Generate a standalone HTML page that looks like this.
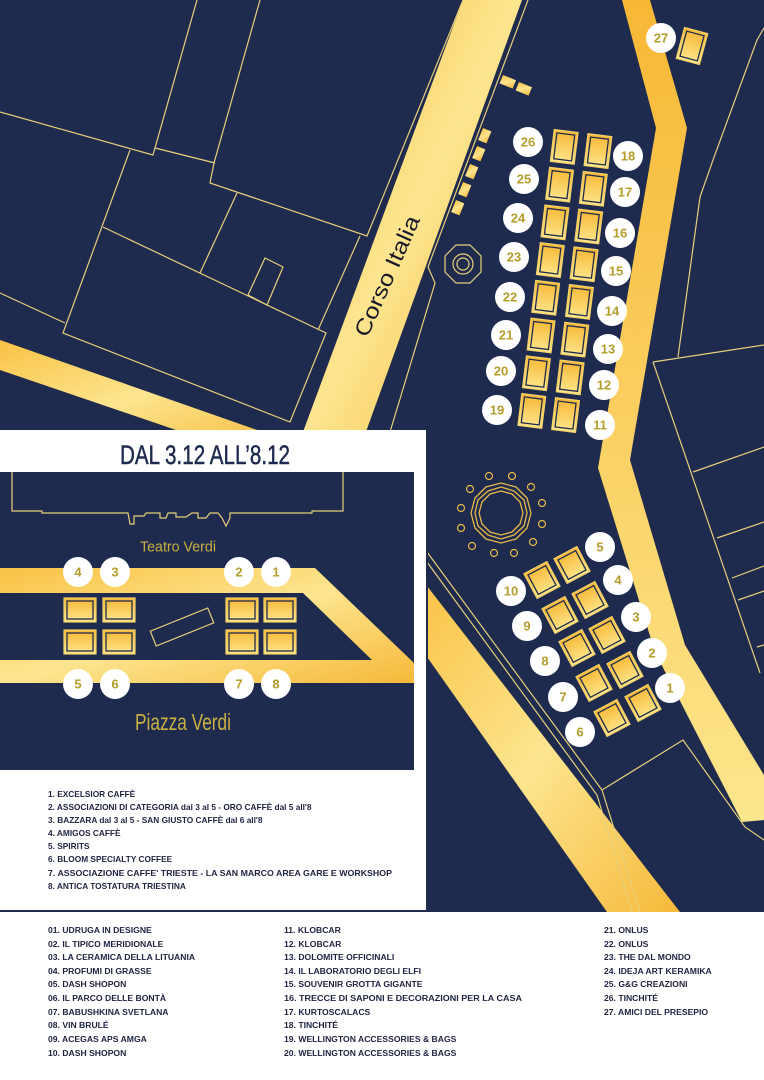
<!DOCTYPE html>
<html><head><meta charset="utf-8"><style>
html,body{margin:0;padding:0;background:#fff}
svg{display:block}
.c{fill:#fff}
.n{font-family:"Liberation Sans",sans-serif;font-weight:bold;font-size:13px;fill:#b39d2b;text-anchor:middle;dominant-baseline:central}
.l{font-family:"Liberation Sans",sans-serif;font-weight:bold;fill:#1e2340}
.o{fill:url(#g2);stroke:#f3d16a;stroke-width:1.2}
.i{fill:none;stroke:#1e2b4e;stroke-width:1.3}
</style></head><body>
<svg width="764" height="1080" viewBox="0 0 764 1080" xmlns="http://www.w3.org/2000/svg">
<defs>
<linearGradient id="g" x1="0" y1="0" x2="1" y2="1">
<stop offset="0" stop-color="#f9c245"/><stop offset="0.5" stop-color="#fde58f"/><stop offset="1" stop-color="#f6b93a"/>
</linearGradient>
<linearGradient id="g2" x1="0" y1="0" x2="0" y2="1">
<stop offset="0" stop-color="#f7b835"/><stop offset="1" stop-color="#fde68c"/>
</linearGradient>
<g id="bv"><rect class="o" x="-12" y="-16" width="24" height="32"/><rect class="i" x="-9" y="-13" width="18" height="26"/></g>
<g id="bs"><rect class="o" x="-13" y="-14" width="26" height="28"/><rect class="i" x="-10" y="-11" width="20" height="22"/></g>
<g id="bi"><rect class="o" x="-16" y="-12" width="32" height="24"/><rect class="i" x="-13" y="-9" width="26" height="18"/></g>
</defs>
<rect x="0" y="0" width="764" height="912" fill="#1e2b4e"/>
<rect x="0" y="912" width="764" height="168" fill="#fff"/>
<line x1="0" y1="911" x2="764" y2="911" stroke="#1e2b4e" stroke-width="2"/>

<!-- roads -->
<polygon points="463,0 522,0 363,440 300,440" fill="url(#g)"/>
<polygon points="0,340 300,445 220,445 0,370" fill="url(#g)"/>
<polygon points="622,0 650,0 687,128 630,460 685,645 764,775 764,820 742,822 655,652 598,468 656,128" fill="url(#g2)"/>
<polygon points="420,577 680,912 607,912 420,647" fill="url(#g)"/>

<!-- thin lines -->
<g stroke="#e8cf7a" stroke-width="1.2" fill="none">
<polyline points="0,112 153,155 197,0"/>
<polyline points="260,0 214,163 210,183 367,236 463,0"/>
<line x1="155" y1="148" x2="215" y2="163"/>
<polyline points="360,236 318,330"/>
<polyline points="130,150 63,333 290,422 326,333 103,227"/>
<line x1="0" y1="293" x2="65" y2="323"/>
<line x1="237" y1="193" x2="200" y2="273"/>
<polygon points="265,258 283,267 267,305 248,295"/>
<polyline points="528,0 428,267 435,283 390,432"/>
<polyline points="764,28 757,40 713,160 700,197 678,357"/>
<polyline points="653,362 764,345"/>
<polyline points="653,362 760,673"/>
<line x1="693" y1="472" x2="764" y2="447"/>
<line x1="717" y1="538" x2="764" y2="522"/>
<line x1="732" y1="578" x2="764" y2="566"/>
<line x1="738" y1="600" x2="764" y2="591"/>
<line x1="757" y1="647" x2="764" y2="645"/>
<polyline points="427,552 602,790 640,912"/>
<polyline points="427,562 597,795 632,912"/>
<polyline points="602,790 683,740 745,827 764,840"/>
</g>

<!-- small rects top -->
<g fill="url(#g)">
<rect x="0" y="0" width="14" height="9" transform="translate(503,75) rotate(22)"/>
<rect x="0" y="0" width="14" height="9" transform="translate(519,82) rotate(22)"/>
<rect x="0" y="0" width="9" height="13" transform="translate(483,128) rotate(22)"/>
<rect x="0" y="0" width="9" height="13" transform="translate(477,146) rotate(22)"/>
<rect x="0" y="0" width="9" height="13" transform="translate(470,164) rotate(22)"/>
<rect x="0" y="0" width="9" height="13" transform="translate(463,182) rotate(22)"/>
<rect x="0" y="0" width="9" height="13" transform="translate(456,200) rotate(22)"/>
</g>
<!-- octagon -->
<g fill="none" stroke="#e8cf7a" stroke-width="1.2">
<polygon points="470,245 481,256 481,272 470,283 456,283 445,272 445,256 456,245"/>
<circle cx="463" cy="264" r="10"/><circle cx="463" cy="264" r="6"/>
</g>
<!-- fountain -->
<g fill="none" stroke="#e8b84a" stroke-width="1.3">
<polygon points="501,483 516,487 527,498 531,513 527,528 516,539 501,543 486,539 475,528 471,513 475,498 486,487"/>
<polygon points="501,487 514,491 524,500 527,513 524,526 514,535 501,539 488,535 478,526 475,513 478,500 488,491"/>
<polygon points="501,491 512,494 520,502 523,513 520,524 512,532 501,535 490,532 482,524 479,513 482,502 490,494"/>
<g stroke-width="1.2">
<circle cx="489" cy="476" r="3.5"/><circle cx="512" cy="476" r="3.5"/><circle cx="531" cy="487" r="3.5"/><circle cx="542" cy="503" r="3.5"/><circle cx="542" cy="524" r="3.5"/><circle cx="533" cy="542" r="3.5"/><circle cx="514" cy="553" r="3.5"/><circle cx="494" cy="553" r="3.5"/><circle cx="472" cy="546" r="3.5"/><circle cx="461" cy="528" r="3.5"/><circle cx="461" cy="508" r="3.5"/><circle cx="470" cy="489" r="3.5"/>
</g></g>

<!-- stalls 11-26 -->
<g transform="rotate(7 565 280)">
<use href="#bv" x="548" y="148"/><use href="#bv" x="582" y="148"/>
<use href="#bv" x="548" y="186"/><use href="#bv" x="582" y="186"/>
<use href="#bv" x="548" y="224"/><use href="#bv" x="582" y="224"/>
<use href="#bv" x="548" y="262"/><use href="#bv" x="582" y="262"/>
<use href="#bv" x="548" y="300"/><use href="#bv" x="582" y="300"/>
<use href="#bv" x="548" y="338"/><use href="#bv" x="582" y="338"/>
<use href="#bv" x="548" y="376"/><use href="#bv" x="582" y="376"/>
<use href="#bv" x="548" y="414"/><use href="#bv" x="582" y="414"/>
</g>
<use href="#bv" transform="translate(692,46) rotate(15)"/>
<use href="#bs" transform="translate(542,580) rotate(-28)"/>
<use href="#bs" transform="translate(572,565) rotate(-28)"/>
<use href="#bs" transform="translate(560,615) rotate(-28)"/>
<use href="#bs" transform="translate(590,600) rotate(-28)"/>
<use href="#bs" transform="translate(577,648) rotate(-28)"/>
<use href="#bs" transform="translate(607,635) rotate(-28)"/>
<use href="#bs" transform="translate(594,683) rotate(-28)"/>
<use href="#bs" transform="translate(625,670) rotate(-28)"/>
<use href="#bs" transform="translate(612,718) rotate(-28)"/>
<use href="#bs" transform="translate(643,703) rotate(-28)"/>

<!-- labels -->
<g>
<circle class="c" cx="528" cy="142" r="15"/><text class="n" x="528" y="142">26</text>
<circle class="c" cx="524" cy="179" r="15"/><text class="n" x="524" y="179">25</text>
<circle class="c" cx="518" cy="218" r="15"/><text class="n" x="518" y="218">24</text>
<circle class="c" cx="514" cy="257" r="15"/><text class="n" x="514" y="257">23</text>
<circle class="c" cx="510" cy="297" r="15"/><text class="n" x="510" y="297">22</text>
<circle class="c" cx="506" cy="335" r="15"/><text class="n" x="506" y="335">21</text>
<circle class="c" cx="501" cy="371" r="15"/><text class="n" x="501" y="371">20</text>
<circle class="c" cx="497" cy="410" r="15"/><text class="n" x="497" y="410">19</text>
<circle class="c" cx="628" cy="156" r="15"/><text class="n" x="628" y="156">18</text>
<circle class="c" cx="625" cy="192" r="15"/><text class="n" x="625" y="192">17</text>
<circle class="c" cx="620" cy="233" r="15"/><text class="n" x="620" y="233">16</text>
<circle class="c" cx="616" cy="271" r="15"/><text class="n" x="616" y="271">15</text>
<circle class="c" cx="612" cy="311" r="15"/><text class="n" x="612" y="311">14</text>
<circle class="c" cx="608" cy="349" r="15"/><text class="n" x="608" y="349">13</text>
<circle class="c" cx="604" cy="385" r="15"/><text class="n" x="604" y="385">12</text>
<circle class="c" cx="600" cy="425" r="15"/><text class="n" x="600" y="425">11</text>
<circle class="c" cx="661" cy="38" r="15"/><text class="n" x="661" y="38">27</text>
<circle class="c" cx="511" cy="591" r="15"/><text class="n" x="511" y="591">10</text>
<circle class="c" cx="527" cy="626" r="15"/><text class="n" x="527" y="626">9</text>
<circle class="c" cx="545" cy="661" r="15"/><text class="n" x="545" y="661">8</text>
<circle class="c" cx="563" cy="697" r="15"/><text class="n" x="563" y="697">7</text>
<circle class="c" cx="580" cy="732" r="15"/><text class="n" x="580" y="732">6</text>
<circle class="c" cx="600" cy="547" r="15"/><text class="n" x="600" y="547">5</text>
<circle class="c" cx="618" cy="580" r="15"/><text class="n" x="618" y="580">4</text>
<circle class="c" cx="636" cy="617" r="15"/><text class="n" x="636" y="617">3</text>
<circle class="c" cx="652" cy="653" r="15"/><text class="n" x="652" y="653">2</text>
<circle class="c" cx="670" cy="688" r="15"/><text class="n" x="670" y="688">1</text>
</g>

<text x="0" y="0" transform="translate(387,276) rotate(-66)" text-anchor="middle" dominant-baseline="central" font-family="Liberation Sans,sans-serif" font-size="22" fill="#1a1a2a" textLength="130" lengthAdjust="spacingAndGlyphs">Corso Italia</text>

<!-- inset panel -->
<rect x="0" y="430" width="426" height="480" fill="#fff"/>
<line x1="427" y1="430" x2="427" y2="911" stroke="#1e2b4e" stroke-width="2"/>
<text x="205" y="455" text-anchor="middle" dominant-baseline="central" font-family="Liberation Sans,sans-serif" font-size="27" fill="#1e2b4e" stroke="#1e2b4e" stroke-width="0.5" textLength="170" lengthAdjust="spacingAndGlyphs">DAL 3.12 ALL’8.12</text>
<rect x="0" y="472" width="414" height="298" fill="#1e2b4e"/>
<polyline points="12,472 12,511 42,511 42,513 128,513 130,524 134,524 134,516 144,516 146,513 160,513 160,518 166,518 168,513 176,513 176,517 186,517 192,513 198,513 198,518 206,518 210,513 218,513 222,518 226,526 230,518 230,513 312,513 312,511 343,511 343,472" fill="none" stroke="#e8cf7a" stroke-width="1.2"/>
<text x="178" y="547" text-anchor="middle" dominant-baseline="central" font-family="Liberation Sans,sans-serif" font-size="15" fill="#c9b040" textLength="76" lengthAdjust="spacingAndGlyphs">Teatro Verdi</text>
<polygon points="0,568 315,568 414,663 414,683 0,683 0,660 372,660 303,593 0,593" fill="url(#g)"/>
<use href="#bi" x="80" y="610"/><use href="#bi" x="119" y="610"/>
<use href="#bi" x="80" y="642"/><use href="#bi" x="119" y="642"/>
<use href="#bi" x="242" y="610"/><use href="#bi" x="280" y="610"/>
<use href="#bi" x="242" y="642"/><use href="#bi" x="280" y="642"/>
<rect x="-31" y="-8" width="62" height="16" transform="translate(182,627) rotate(-22)" fill="none" stroke="#e8cf7a" stroke-width="1.2"/>
<circle class="c" cx="78" cy="572" r="15"/><text class="n" x="78" y="572">4</text>
<circle class="c" cx="115" cy="572" r="15"/><text class="n" x="115" y="572">3</text>
<circle class="c" cx="239" cy="572" r="15"/><text class="n" x="239" y="572">2</text>
<circle class="c" cx="276" cy="572" r="15"/><text class="n" x="276" y="572">1</text>
<circle class="c" cx="78" cy="684" r="15"/><text class="n" x="78" y="684">5</text>
<circle class="c" cx="115" cy="684" r="15"/><text class="n" x="115" y="684">6</text>
<circle class="c" cx="239" cy="684" r="15"/><text class="n" x="239" y="684">7</text>
<circle class="c" cx="276" cy="684" r="15"/><text class="n" x="276" y="684">8</text>
<text x="183" y="722" text-anchor="middle" dominant-baseline="central" font-family="Liberation Sans,sans-serif" font-size="23" fill="#c9b040" textLength="96" lengthAdjust="spacingAndGlyphs">Piazza Verdi</text>

<g class="l" font-size="8.3">
<text x="48" y="797">1. EXCELSIOR CAFFÈ</text>
<text x="48" y="810">2. ASSOCIAZIONI DI CATEGORIA dal 3 al 5 - ORO CAFFÈ dal 5 all'8</text>
<text x="48" y="823">3. BAZZARA dal 3 al 5 - SAN GIUSTO CAFFÈ dal 6 all'8</text>
<text x="48" y="836">4. AMIGOS CAFFÈ</text>
<text x="48" y="849">5. SPIRITS</text>
<text x="48" y="862">6. BLOOM SPECIALTY COFFEE</text>
<text x="48" y="876" textLength="344" lengthAdjust="spacingAndGlyphs">7. ASSOCIAZIONE CAFFE' TRIESTE - LA SAN MARCO AREA GARE E WORKSHOP</text>
<text x="48" y="889">8. ANTICA TOSTATURA TRIESTINA</text>
</g>

<g class="l" font-size="8.6">
<text x="48" y="933">01. UDRUGA IN DESIGNE</text>
<text x="48" y="947">02. IL TIPICO MERIDIONALE</text>
<text x="48" y="960">03. LA CERAMICA DELLA LITUANIA</text>
<text x="48" y="974">04. PROFUMI DI GRASSE</text>
<text x="48" y="987">05. DASH SHOPON</text>
<text x="48" y="1001">06. IL PARCO DELLE BONTÀ</text>
<text x="48" y="1015">07. BABUSHKINA SVETLANA</text>
<text x="48" y="1028">08. VIN BRULÉ</text>
<text x="48" y="1042">09. ACEGAS APS AMGA</text>
<text x="48" y="1056">10. DASH SHOPON</text>
<text x="284" y="933">11. KLOBCAR</text>
<text x="284" y="947">12. KLOBCAR</text>
<text x="284" y="960">13. DOLOMITE OFFICINALI</text>
<text x="284" y="974">14. IL LABORATORIO DEGLI ELFI</text>
<text x="284" y="987">15. SOUVENIR GROTTA GIGANTE</text>
<text x="284" y="1001" textLength="238" lengthAdjust="spacingAndGlyphs">16. TRECCE DI SAPONI E DECORAZIONI PER LA CASA</text>
<text x="284" y="1015">17. KURTOSCALACS</text>
<text x="284" y="1028">18. TINCHITÉ</text>
<text x="284" y="1042">19. WELLINGTON ACCESSORIES &amp; BAGS</text>
<text x="284" y="1056">20. WELLINGTON ACCESSORIES &amp; BAGS</text>
<text x="604" y="933">21. ONLUS</text>
<text x="604" y="947">22. ONLUS</text>
<text x="604" y="960">23. THE DAL MONDO</text>
<text x="604" y="974">24. IDEJA ART KERAMIKA</text>
<text x="604" y="987">25. G&amp;G CREAZIONI</text>
<text x="604" y="1001">26. TINCHITÉ</text>
<text x="604" y="1015">27. AMICI DEL PRESEPIO</text>
</g>
</svg>
</body></html>
